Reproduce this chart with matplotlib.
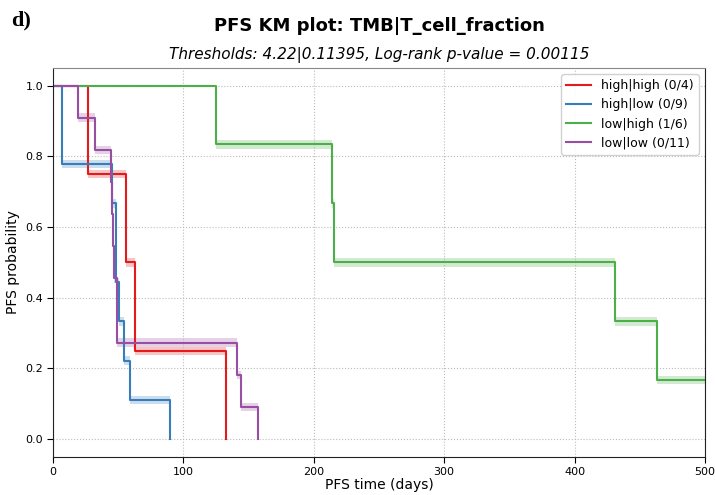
import numpy as np
import matplotlib.pyplot as plt

# follow-up times (days) and event flags (1 = progression, 0 = censored)
hh_times = [27, 56, 63, 133]
hh_events = [1, 1, 1, 1]
hl_times = [7, 7, 45.5, 48, 48.7, 50.6, 54.8, 59.4, 89.7]
hl_events = [1, 1, 1, 1, 1, 1, 1, 1, 1]
lh_times = [125, 214.2, 215.2, 431, 463, 540]
lh_events = [1, 1, 1, 1, 1, 0]
ll_times = [19, 32, 44.2, 45.5, 46.3, 47, 49.1, 49.1, 141, 144.2, 157]
ll_events = [1, 1, 1, 1, 1, 1, 1, 1, 1, 1, 1]

labels = ["high|high (0/4)", "high|low (0/9)", "low|high (1/6)", "low|low (0/11)"]
colors = ["#e41a1c", "#377eb8", "#4daf4a", "#984ea3"]
groups = [
    (hh_times, hh_events),
    (hl_times, hl_events),
    (lh_times, lh_events),
    (ll_times, ll_events),
]


def km_curve(times, events):
    times = np.asarray(times, float)
    events = np.asarray(events, int)
    t_out = [0.0]
    s_out = [1.0]
    s = 1.0
    for t in np.unique(times):
        at_risk = np.sum(times >= t)
        d = np.sum((times == t) & (events == 1))
        if d > 0:
            s *= 1 - d / at_risk
        t_out.append(t)
        s_out.append(s)
    return np.array(t_out), np.array(s_out)


fig = plt.figure(figsize=(7.15, 4.95), dpi=100)
ax = fig.add_axes([0.074, 0.077, 0.912, 0.786])

for (times, events), lab, col in zip(groups, labels, colors):
    t, s = km_curve(times, events)
    ax.step(t, s, where="post", color=col, lw=1.5, label=lab)
    band = np.where((s > 0) & (s < 1), 0.012, 0.0)
    ax.fill_between(t, s - band, s + band, step="post", color=col,
                    alpha=0.25, lw=0)

ax.set_xlim(0, 500)
ax.set_ylim(-0.05, 1.05)
ax.set_yticks(np.arange(0, 1.01, 0.2))
ax.set_xticks(range(0, 501, 100))
ax.tick_params(labelsize=8, direction="out", length=4, pad=3)
ax.grid(True, ls=":", color="#bbbbbb", lw=0.8)
for side in ["left", "bottom", "right"]:
    ax.spines[side].set_color("#222222")
ax.spines["top"].set_color("#888888")

ax.set_xlabel("PFS time (days)", fontsize=10, labelpad=1)
ax.set_ylabel("PFS probability", fontsize=10)
ax.set_title("Thresholds: 4.22|0.11395, Log-rank p-value = 0.00115",
             fontsize=11, style="italic", pad=6)
fig.text(0.531, 0.948, "PFS KM plot: TMB|T_cell_fraction", fontsize=13,
         weight="bold", ha="center", va="center")
fig.text(0.015, 0.958, "d)", fontsize=16, weight="bold",
         family="Liberation Serif", ha="left", va="center")

ax.legend(loc="upper right", fontsize=9, framealpha=0.9)

fig.savefig("out.png", dpi=100)
